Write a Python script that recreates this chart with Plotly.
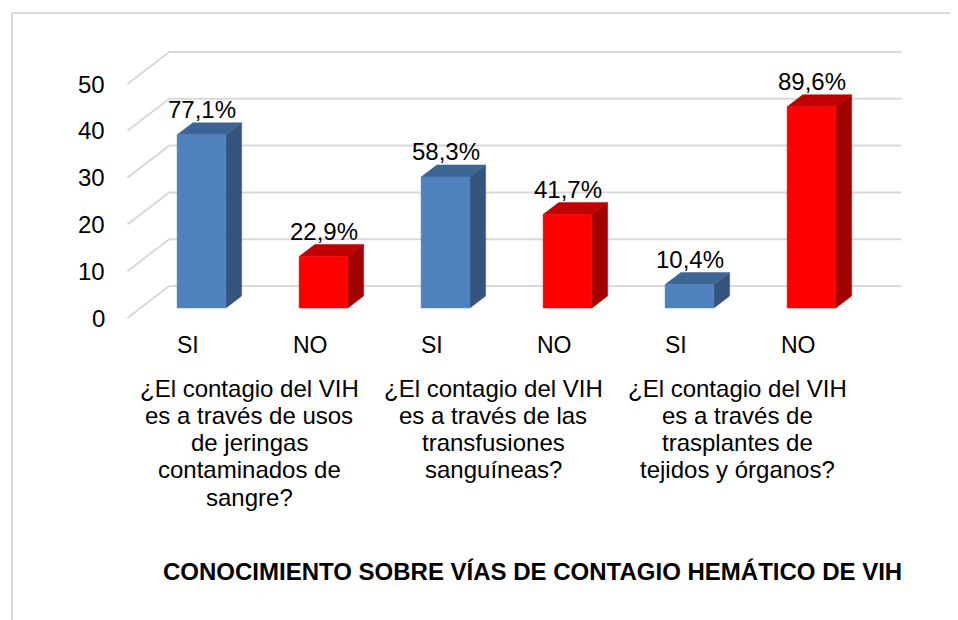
"""3D-style column chart: knowledge of blood-borne HIV transmission routes."""

import plotly.graph_objects as go

# data
questions = [
    ["¿El contagio del VIH", "es a través de usos", "de jeringas", "contaminados de", "sangre?"],
    ["¿El contagio del VIH", "es a través de las", "transfusiones", "sanguíneas?"],
    ["¿El contagio del VIH", "es a través de", "trasplantes de", "tejidos y órganos?"],
]
answers = ["SI", "NO", "SI", "NO", "SI", "NO"]
counts = [37, 11, 28, 20, 5, 43]
pct_labels = ["77,1%", "22,9%", "58,3%", "41,7%", "10,4%", "89,6%"]
y_ticks = [0, 10, 20, 30, 40, 50]
chart_title = "CONOCIMIENTO SOBRE VÍAS DE CONTAGIO HEMÁTICO DE VIH"

# colours per answer: (front, top, side)
colors = {
    "SI": ("#4F81BD", "#3C6494", "#34547E"),
    "NO": ("#FF0000", "#C00000", "#A00000"),
}
grid_color = "#D9D9D9"
font_family = "Arial, Liberation Sans, sans-serif"

# page / projection settings (pixels); the page body adds an 8px margin
W, H = 958, 620
PAGE_PAD = 8
PX_PER_CAT = 122
PX_PER_UNIT = 4.68
X0_PX = 188.4 - PAGE_PAD   # category 0 on the front plane
Y0_PX = 318 - PAGE_PAD     # value 0 on the front plane
SLANT = 1.31               # horizontal shift per pixel of depth
WALL_D = 32
BAR_D0, BAR_D1 = 10, 22
BAR_HALF = 0.2


def proj(x, y, d):
    """Oblique projection of (category, value, depth) into axis units."""
    return x + SLANT * d / PX_PER_CAT, y + d / PX_PER_UNIT


def polygon(points):
    xs, ys = [], []
    for p in points:
        px, py = proj(*p)
        xs.append(px)
        ys.append(py)
    xs.append(xs[0])
    ys.append(ys[0])
    return xs, ys


fig = go.Figure()

# Gridlines: left side wall + back wall
left = -0.5
right = len(answers) - 0.5
gx, gy = [], []
for v in y_ticks:
    for p in [(left, v, 0), (left, v, WALL_D), (right, v, WALL_D)]:
        px, py = proj(*p)
        gx.append(px)
        gy.append(py)
    gx.append(None)
    gy.append(None)

fig.add_trace(
    go.Scatter(
        x=gx, y=gy,
        mode="lines",
        line=dict(color=grid_color, width=2),
        hoverinfo="skip"
    )
)

# Bars
for i, (ans, c) in enumerate(zip(answers, counts)):
    front, top, side = colors[ans]
    x0, x1 = i - BAR_HALF, i + BAR_HALF
    faces = [
        (side, [(x1, 0, BAR_D0), (x1, c, BAR_D0), (x1, c, BAR_D1), (x1, 0, BAR_D1)]),
        (top, [(x0, c, BAR_D0), (x1, c, BAR_D0), (x1, c, BAR_D1), (x0, c, BAR_D1)]),
        (front, [(x0, 0, BAR_D0), (x1, 0, BAR_D0), (x1, c, BAR_D0), (x0, c, BAR_D0)]),
    ]
    for col, pts in faces:
        xs, ys = polygon(pts)
        fig.add_trace(
            go.Scatter(
                x=xs, y=ys,
                mode="lines",
                fill="toself",
                fillcolor=col,
                line=dict(color=col, width=0.5),
                hoverinfo="skip"
            )
        )

annotations = []

# Data labels
for i, (c, lab) in enumerate(zip(counts, pct_labels)):
    px, py = proj(i, c, BAR_D0)
    annotations.append(dict(
        x=px, y=py, text=lab, showarrow=False,
        xanchor="center", yanchor="middle", yshift=25,
        font=dict(size=24, color="#000000", family=font_family)
    ))

# Y tick labels
for v in y_ticks:
    px, py = proj(left, v, 0)
    annotations.append(dict(
        x=px, y=py, text=str(v), showarrow=False,
        xanchor="right", yanchor="middle", xshift=-20,
        font=dict(size=24, color="#000000", family=font_family)
    ))

# Answer labels
for i, ans in enumerate(answers):
    px, py = proj(i, 0, 0)
    annotations.append(dict(
        x=px, y=py, text=ans, showarrow=False,
        xanchor="center", yanchor="middle", yshift=-27,
        font=dict(size=23, color="#000000", family=font_family)
    ))

# Question labels (one annotation per line)
for g, lines in enumerate(questions):
    px, py = proj(2 * g + 0.5, 0, 0)
    for k, line in enumerate(lines):
        annotations.append(dict(
            x=px, y=py, text=line, showarrow=False,
            xanchor="center", yanchor="middle", yshift=-(70 + 27.3 * k),
            font=dict(size=24, color="#000000", family=font_family)
        ))

# Axis title
annotations.append(dict(
    x=(532 - PAGE_PAD) / W, y=1 - (571 - PAGE_PAD) / H, xref="paper", yref="paper",
    text=f"<b>{chart_title}</b>", showarrow=False,
    xanchor="center", yanchor="middle",
    font=dict(size=24, color="#000000", family=font_family)
))

fig.update_layout(
    width=W,
    height=H,
    autosize=False,
    showlegend=False,
    paper_bgcolor="white",
    plot_bgcolor="white",
    margin=dict(l=0, r=0, t=0, b=0),
    xaxis=dict(
        range=[-X0_PX / PX_PER_CAT, (W - X0_PX) / PX_PER_CAT],
        visible=False, fixedrange=True
    ),
    yaxis=dict(
        range=[(Y0_PX - H) / PX_PER_UNIT, Y0_PX / PX_PER_UNIT],
        visible=False, fixedrange=True
    ),
    annotations=annotations,
    shapes=[dict(
        type="rect", xref="paper", yref="paper",
        x0=(12 - PAGE_PAD) / W, x1=1.02, y0=-0.05, y1=1 - (13 - PAGE_PAD) / H,
        line=dict(color=grid_color, width=2),
        fillcolor="rgba(0,0,0,0)"
    )]
)

fig.write_html("out.html")
